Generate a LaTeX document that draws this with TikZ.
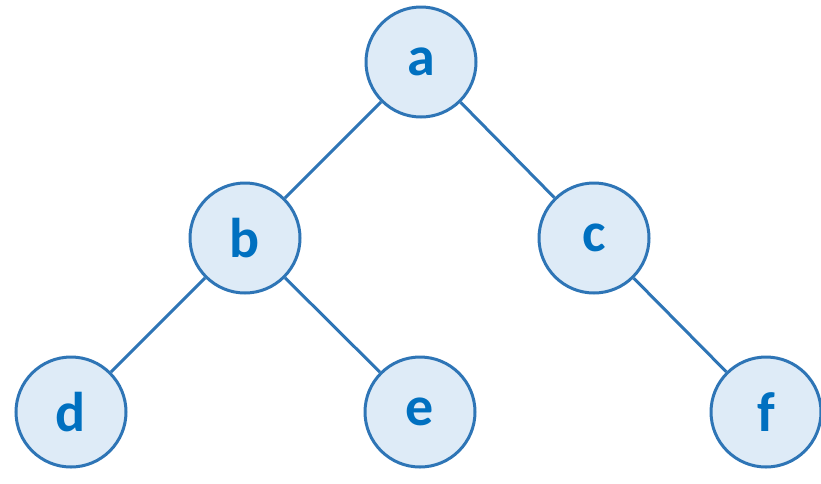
\documentclass[tikz,border=0pt]{standalone}
\usepackage{fontspec}
\setmainfont{Carlito}
\usepackage{tikz}
\usetikzlibrary{positioning}
\definecolor{nodeline}{HTML}{2E75B6}
\definecolor{nodefill}{HTML}{DEEBF7}
\definecolor{nodetext}{HTML}{0070C0}

\begin{document}
\begin{tikzpicture}[x=1pt,y=-1pt, every node/.style={font=\fontsize{56}{56}\selectfont\bfseries,text=nodetext}, vertex/.style={circle,draw=nodeline,fill=nodefill,line width=3pt,minimum size=110pt,inner sep=0pt}, edge/.style={draw=nodeline,line width=3pt}]
\useasboundingbox (0,0) rectangle (821,483);
\node[vertex] (a) at (421,62) {a};
\node[vertex] (b) at (245,238) {b};
\node[vertex] (c) at (594,238) {c};
\node[vertex] (d) at (71,412) {d};
\node[vertex] (e) at (420,412) {e};
\node[vertex] (f) at (766,412) {f};
\path[edge] (a)--(b);\path[edge] (a)--(c);\path[edge] (b)--(d);\path[edge] (b)--(e);\path[edge] (c)--(f);
\end{tikzpicture}
\end{document}
